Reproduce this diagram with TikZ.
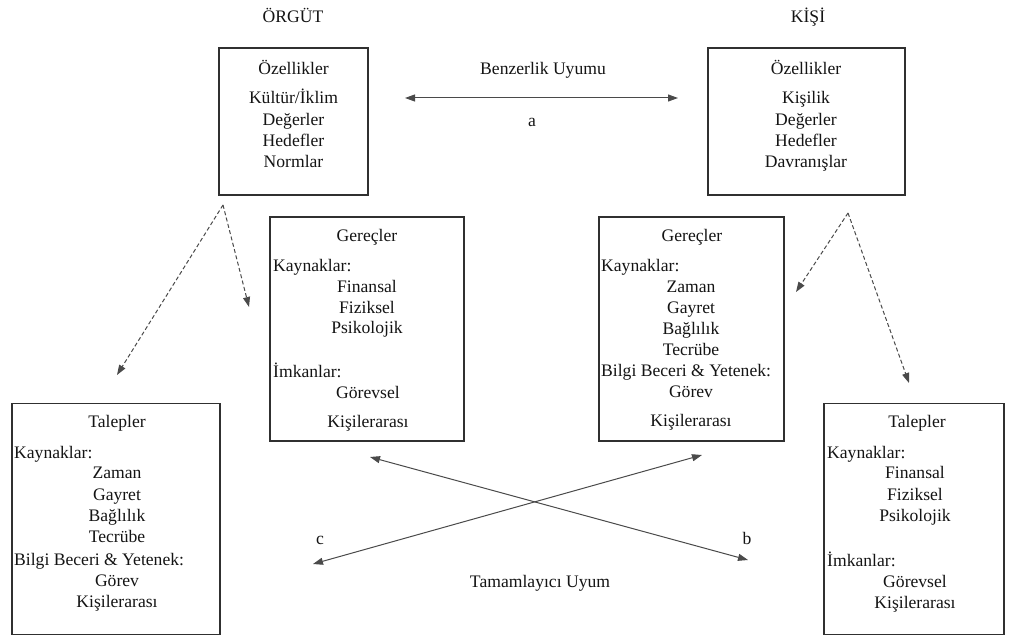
\documentclass[tikz,border=0pt]{standalone}
\usepackage{fontspec}
\setmainfont{Liberation Serif}
\newfontfamily\bodyserif{Liberation Serif}
\usetikzlibrary{arrows.meta}
\definecolor{framegray}{HTML}{303030}
\definecolor{linegray}{HTML}{4A4A4A}
\definecolor{inkc}{HTML}{141414}
\tikzset{
  box/.style={draw=framegray, line width=1.5pt, inner sep=0pt, outer sep=0pt},
  ctr/.style={anchor=base, inner sep=0pt, text=inkc, font=\bodyserif\fontsize{17.6}{21}\selectfont},
  lft/.style={anchor=base west, inner sep=0pt, text=inkc, font=\bodyserif\fontsize{17.6}{21}\selectfont},
  tip/.style={-{Triangle[length=10pt,width=7pt]}},
  bitip/.style={{Triangle[length=10pt,width=7pt]}-{Triangle[length=10pt,width=7pt]}},
  link/.style={draw=linegray, line width=1pt},
  dlink/.style={draw=linegray, line width=1pt, dash pattern=on 4pt off 2.5pt},
}
\newcommand\ct[4]{\node[ctr] (#1) at (#2,#3) {#4};}
\newcommand\lt[4]{\node[lft] (#1) at (#2,#3) {#4};}
\begin{document}
\begin{tikzpicture}[x=1pt,y=-1pt]
\useasboundingbox[fill=white] (0,0) rectangle (1016,636);

% column headings
\ct{hO}{293}{23}{ÖRGÜT}
\ct{hK}{808}{23}{KİŞİ}

% boxes
\node[box, minimum width=149pt, minimum height=147pt] (oO) at (293.5,121.5) {};
\node[box, minimum width=197pt, minimum height=147pt] (oK) at (806.5,121.5) {};
\node[box, minimum width=194pt, minimum height=224pt] (gO) at (367,329) {};
\node[box, minimum width=185pt, minimum height=224pt] (gK) at (691.5,329) {};
\node[box, minimum width=208pt, minimum height=231pt] (tO) at (116,519) {};
\node[box, minimum width=180pt, minimum height=231pt] (tK) at (914,519) {};

% organisation: characteristics
\ct{oO1}{293.5}{75}{Özellikler}
\ct{oO2}{293.5}{104}{Kültür/İklim}
\ct{oO3}{293.5}{125.5}{Değerler}
\ct{oO4}{293.5}{147}{Hedefler}
\ct{oO5}{293.5}{168}{Normlar}

% person: characteristics
\ct{oK1}{806}{75}{Özellikler}
\ct{oK2}{806}{104}{Kişilik}
\ct{oK3}{806}{125.5}{Değerler}
\ct{oK4}{806}{147}{Hedefler}
\ct{oK5}{806}{168}{Davranışlar}

% organisation: supplies
\ct{gO1}{367}{241}{Gereçler}
\lt{gO2}{273}{271}{Kaynaklar:}
\ct{gO3}{367}{292}{Finansal}
\ct{gO4}{367}{313}{Fiziksel}
\ct{gO5}{367}{333}{Psikolojik}
\lt{gO6}{273}{377}{İmkanlar:}
\ct{gO7}{368}{398}{Görevsel}
\ct{gO8}{368}{427}{Kişilerarası}

% person: supplies
\ct{gK1}{692}{241}{Gereçler}
\lt{gK2}{601}{271}{Kaynaklar:}
\ct{gK3}{691}{292}{Zaman}
\ct{gK4}{691}{313}{Gayret}
\ct{gK5}{691}{334}{Bağlılık}
\ct{gK6}{691}{355}{Tecrübe}
\lt{gK7}{601}{376}{Bilgi Beceri \& Yetenek:}
\ct{gK8}{691}{397}{Görev}
\ct{gK9}{691}{426}{Kişilerarası}

% organisation: demands
\ct{tO1}{117}{427}{Talepler}
\lt{tO2}{14}{458}{Kaynaklar:}
\ct{tO3}{117}{478}{Zaman}
\ct{tO4}{117}{500}{Gayret}
\ct{tO5}{117}{521}{Bağlılık}
\ct{tO6}{117}{542}{Tecrübe}
\lt{tO7}{14}{565}{Bilgi Beceri \& Yetenek:}
\ct{tO8}{117}{586}{Görev}
\ct{tO9}{117}{607}{Kişilerarası}

% person: demands
\ct{tK1}{917}{427}{Talepler}
\lt{tK2}{827}{458}{Kaynaklar:}
\ct{tK3}{915}{478}{Finansal}
\ct{tK4}{915}{500}{Fiziksel}
\ct{tK5}{915}{521}{Psikolojik}
\lt{tK6}{827}{566}{İmkanlar:}
\ct{tK7}{915}{587}{Görevsel}
\ct{tK8}{915}{608}{Kişilerarası}

% supplementary fit
\coordinate (aL) at (405,98);
\coordinate (aR) at (678,98);
\draw[link, bitip] (aL) -- (aR);
\ct{fitA}{543}{75}{Benzerlik Uyumu}
\ct{labA}{532}{127}{a}

% breakdown of characteristics (dashed)
\coordinate (pO) at (223,205);
\coordinate (pOd) at (117,375);
\coordinate (pOs) at (249,307);
\draw[dlink, tip] (pO) -- (pOd);
\draw[dlink, tip] (pO) -- (pOs);
\coordinate (pK) at (848,213);
\coordinate (pKs) at (796,292);
\coordinate (pKd) at (909,383);
\draw[dlink, tip] (pK) -- (pKs);
\draw[dlink, tip] (pK) -- (pKd);

% complementary fit
\coordinate (bS) at (370,457);
\coordinate (bE) at (748,560);
\coordinate (cS) at (313,564);
\coordinate (cE) at (702,455);
\draw[link, bitip] (bS) -- (bE);
\draw[link, bitip] (cS) -- (cE);
\ct{labC}{320}{544}{c}
\ct{labB}{747}{544}{b}
\ct{fitB}{540}{587}{Tamamlayıcı Uyum}
\end{tikzpicture}
\end{document}
